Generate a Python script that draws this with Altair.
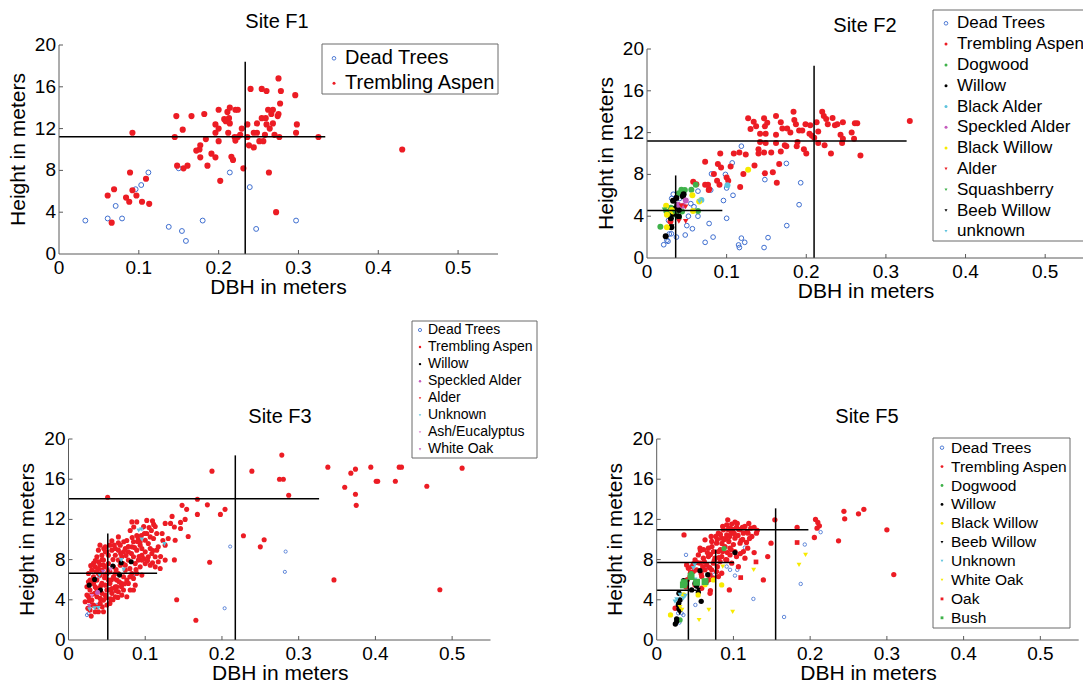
import altair as alt
import pandas as pd

OFF = 8
W, H = 1075, 672
FONT = "Liberation Sans"

RED = "#ec1c24"
BLUE = "#3f6fd0"
GREEN = "#3fb24a"
BLACK = "#000000"
CYAN = "#5ec3dd"
MAGENTA = "#c45bbd"
PINK = "#dd80cf"
YELLOW = "#f7ea00"
AXIS = "#5a5a5a"

X_TICKS = [0, 0.1, 0.2, 0.3, 0.4, 0.5]
X_TICK_LABELS = ["0", "0.1", "0.2", "0.3", "0.4", "0.5"]
Y_TICKS = [0, 4, 8, 12, 16, 20]

# ---------------- Site F1 ----------------
F1_DEAD = [(0.033, 3.2), (0.061, 3.4), (0.079, 3.4), (0.071, 4.6), (0.096, 6.2), (0.103, 6.6),
           (0.112, 7.8), (0.1375, 2.6), (0.154, 2.2), (0.159, 1.25), (0.150, 8.2), (0.180, 3.2),
           (0.214, 7.8), (0.239, 6.4), (0.247, 2.4), (0.297, 3.2)]
F1_ASPEN = [(0.061, 5.6), (0.069, 6.2), (0.066, 3.0), (0.089, 7.8), (0.092, 11.6), (0.084, 5.4),
            (0.088, 5.0), (0.092, 6.1), (0.097, 5.6), (0.104, 5.0), (0.109, 7.2), (0.113, 4.8),
            (0.147, 13.2), (0.145, 11.2), (0.148, 8.45), (0.155, 11.9), (0.156, 8.2), (0.161, 8.45),
            (0.166, 13.2), (0.182, 13.4), (0.177, 10.4), (0.176, 10.0), (0.172, 9.9), (0.177, 9.25),
            (0.184, 11.0), (0.186, 8.45), (0.191, 9.6), (0.196, 9.25), (0.196, 12.4), (0.196, 11.6),
            (0.200, 13.8), (0.200, 12.0), (0.200, 10.8), (0.202, 7.0), (0.207, 12.9), (0.209, 12.7),
            (0.211, 13.6), (0.212, 11.6), (0.213, 13.0), (0.214, 14.0), (0.214, 12.5), (0.216, 9.3),
            (0.218, 9.0), (0.221, 13.8), (0.224, 13.8), (0.220, 11.2), (0.221, 10.85), (0.224, 11.2),
            (0.227, 11.4), (0.229, 12.0), (0.231, 8.2), (0.236, 12.4), (0.236, 11.2), (0.238, 10.4),
            (0.244, 10.2), (0.244, 11.6), (0.240, 15.8), (0.248, 12.5), (0.248, 11.6), (0.251, 10.8),
            (0.254, 13.0), (0.254, 15.8), (0.256, 10.8), (0.258, 11.4), (0.259, 13.0), (0.260, 15.6),
            (0.260, 12.4), (0.263, 7.8), (0.262, 13.8), (0.264, 12.0), (0.266, 13.4), (0.268, 13.8),
            (0.268, 12.5), (0.270, 11.4), (0.272, 4.0), (0.275, 16.8), (0.274, 13.2), (0.275, 13.4),
            (0.277, 14.4), (0.278, 15.6), (0.276, 11.2), (0.296, 15.2), (0.297, 11.6), (0.298, 12.4),
            (0.325, 11.2), (0.430, 10.0)]
F1_CROSS = [(0.2333, 0, 0.2333, 18.4), (0, 11.23, 0.3336, 11.23)]

# ---------------- Site F2 ----------------
F2_DEAD = [(0.021, 1.27), (0.025, 1.7), (0.028, 2.3), (0.037, 2.0), (0.048, 2.2), (0.057, 2.8),
           (0.050, 3.1), (0.073, 1.5), (0.083, 2.0), (0.078, 3.3), (0.100, 3.8), (0.096, 5.5),
           (0.108, 6.0), (0.100, 6.7), (0.0985, 8.0), (0.081, 8.05), (0.080, 6.5), (0.107, 9.1),
           (0.1185, 10.7), (0.115, 1.25), (0.1185, 1.9), (0.1227, 1.5), (0.116, 1.0), (0.147, 1.0),
           (0.152, 1.95), (0.148, 7.5), (0.175, 9.05), (0.1755, 3.1), (0.191, 5.1), (0.193, 7.2),
           (0.064, 6.4), (0.059, 4.9), (0.031, 5.7), (0.033, 6.1), (0.027, 3.6), (0.041, 5.7),
           (0.052, 4.0), (0.064, 4.0), (0.0264, 1.6), (0.0306, 2.32), (0.045, 6.2), (0.055, 5.2)]
F2_ASPEN = [(0.127, 13.37), (0.134, 13.05), (0.137, 12.6), (0.130, 12.35), (0.147, 13.37), (0.151, 12.95),
            (0.148, 12.6), (0.142, 11.9), (0.149, 11.9), (0.162, 13.6), (0.168, 13.0), (0.170, 12.4),
            (0.176, 12.4), (0.180, 12.0), (0.162, 11.8), (0.184, 14.0), (0.185, 13.2), (0.187, 12.8),
            (0.191, 12.2), (0.195, 12.2), (0.199, 12.8), (0.205, 12.7), (0.204, 11.9), (0.207, 11.7),
            (0.213, 13.0), (0.215, 12.1), (0.220, 14.0), (0.222, 13.6), (0.225, 13.3), (0.227, 12.8),
            (0.233, 13.4), (0.236, 12.7), (0.239, 12.8), (0.246, 13.0), (0.243, 11.8), (0.246, 11.4),
            (0.245, 11.0), (0.257, 12.0), (0.260, 11.4), (0.261, 12.9), (0.264, 12.9), (0.268, 9.8),
            (0.330, 13.1), (0.142, 11.1), (0.149, 11.0), (0.162, 11.0), (0.173, 10.8), (0.175, 10.7),
            (0.189, 11.1), (0.188, 10.7), (0.197, 10.4), (0.200, 10.0), (0.210, 11.5), (0.215, 11.0),
            (0.223, 10.8), (0.231, 10.0), (0.140, 10.4), (0.140, 10.0), (0.147, 10.1), (0.156, 10.1),
            (0.168, 10.2), (0.092, 10.0), (0.109, 10.0), (0.116, 10.1), (0.124, 9.9), (0.073, 9.2),
            (0.089, 9.0), (0.093, 8.65), (0.105, 8.75), (0.121, 8.05), (0.135, 8.85), (0.148, 8.1),
            (0.158, 8.2), (0.166, 9.0), (0.163, 7.2), (0.073, 7.0), (0.084, 8.05), (0.088, 7.4),
            (0.091, 7.0), (0.100, 7.7), (0.102, 7.4), (0.117, 6.8), (0.078, 6.6), (0.058, 7.3),
            (0.0766, 7.0), (0.0775, 6.5), (0.0294, 3.5), (0.062, 7.05)]
F2_DOGWOOD = [(0.0612, 7.0), (0.0432, 6.52), (0.040, 6.2), (0.0557, 6.52), (0.0244, 4.45), (0.0264, 4.23),
              (0.0366, 4.14), (0.064, 4.5), (0.0168, 3.0), (0.044, 4.45), (0.040, 3.9), (0.030, 4.8),
              (0.0475, 6.5)]
F2_WILLOW = [(0.0327, 5.48), (0.0369, 5.73), (0.045, 5.9), (0.036, 4.77), (0.040, 4.6), (0.033, 4.23),
             (0.040, 3.97), (0.0235, 2.07), (0.0306, 2.95), (0.030, 3.8), (0.038, 5.1), (0.046, 6.1)]
F2_BLACK_ALDER = [(0.0683, 5.56), (0.101, 6.95)]
F2_SPECKLED = [(0.0487, 5.5), (0.039, 5.1), (0.0453, 5.0)]
F2_BLACK_WILLOW = [(0.025, 4.14), (0.033, 4.45), (0.057, 6.0), (0.0578, 4.5), (0.127, 8.44),
                   (0.025, 2.95), (0.031, 4.6), (0.0655, 5.4), (0.024, 5.0)]
F2_ALDER = [(0.040, 3.5), (0.0486, 3.5), (0.0485, 4.9), (0.043, 5.0)]
F2_SQUASH = [(0.022, 4.6), (0.034, 4.4)]
F2_BEEB = [(0.037, 4.0), (0.031, 3.0)]
F2_UNKNOWN = [(0.066, 5.4)]
F2_CROSS = [(0.2098, 0, 0.2098, 18.4), (0, 11.2, 0.326, 11.2), (0.036, 0, 0.036, 7.9), (0, 4.55, 0.0946, 4.55)]

# ---------------- Site F3 ----------------
F3_DEAD = [(0.2107, 9.3), (0.283, 8.8), (0.282, 6.78), (0.2035, 3.16), (0.0965, 11.1), (0.086, 6.56),
           (0.026, 2.65), (0.024, 2.48), (0.0348, 3.31), (0.0587, 4.97), (0.085, 6.48), (0.037, 3.5),
           (0.040, 6.3)]
F3_ASPEN = [(0.051, 14.2), (0.187, 16.8), (0.168, 14.0), (0.181, 13.45), (0.168, 12.5), (0.198, 12.5),
            (0.204, 13.0), (0.148, 13.4), (0.154, 13.0), (0.152, 12.0), (0.156, 10.3), (0.135, 12.3),
            (0.146, 11.7), (0.184, 7.74), (0.138, 7.97), (0.141, 4.0), (0.166, 1.96), (0.228, 10.37),
            (0.239, 16.8), (0.250, 9.27), (0.255, 9.97), (0.278, 18.4), (0.275, 16.0), (0.280, 16.0),
            (0.287, 14.4), (0.338, 17.2), (0.360, 15.2), (0.368, 16.6), (0.374, 17.0), (0.374, 14.5),
            (0.375, 13.4), (0.346, 5.98), (0.394, 17.2), (0.401, 15.8), (0.403, 15.8), (0.426, 15.8),
            (0.431, 17.2), (0.434, 17.2), (0.467, 15.3), (0.513, 17.1), (0.484, 5.0),
            (0.102, 11.9), (0.1095, 11.85), (0.113, 11.3), (0.108, 10.9), (0.115, 10.6), (0.099, 10.6),
            (0.0826, 11.75), (0.085, 11.25), (0.126, 11.6), (0.133, 11.6), (0.138, 11.25), (0.146, 11.1),
            (0.122, 10.6), (0.091, 10.1), (0.083, 10.2), (0.076, 9.9), (0.072, 9.77), (0.065, 9.67),
            (0.0565, 9.87), (0.0595, 9.44), (0.041, 9.44), (0.039, 8.94), (0.048, 9.27), (0.065, 8.94),
            (0.074, 9.1), (0.0826, 9.27), (0.089, 8.94), (0.100, 8.77), (0.1086, 8.6), (0.115, 8.94),
            (0.104, 9.6), (0.0934, 9.44), (0.1095, 7.68), (0.117, 7.78), (0.126, 7.95), (0.100, 7.6),
            (0.0934, 7.28), (0.087, 7.6), (0.080, 7.1), (0.0826, 6.62), (0.074, 6.95), (0.0717, 6.29),
            (0.0687, 5.63), (0.063, 5.96), (0.061, 5.3), (0.0565, 5.13), (0.050, 4.97), (0.052, 5.96),
            (0.065, 6.62), (0.0587, 7.28), (0.052, 7.6), (0.0456, 7.95), (0.039, 7.78), (0.0348, 7.28),
            (0.0304, 6.95), (0.026, 6.62), (0.0282, 5.96), (0.0326, 6.29), (0.037, 5.96), (0.039, 6.62),
            (0.0435, 6.95), (0.0478, 6.46), (0.0435, 5.63), (0.0348, 5.3), (0.028, 4.97), (0.026, 4.3),
            (0.0304, 3.97), (0.037, 4.3), (0.0435, 4.64), (0.0456, 3.97), (0.0478, 4.47), (0.0413, 3.64),
            (0.037, 3.31), (0.0326, 3.48), (0.028, 2.98), (0.0252, 3.15), (0.0296, 2.38), (0.0456, 2.81),
            (0.039, 2.81), (0.0643, 4.24), (0.0717, 4.97), (0.0847, 4.97), (0.078, 5.63), (0.061, 4.3),
            (0.054, 3.64), (0.0956, 7.95), (0.1065, 7.45), (0.1195, 7.12), (0.078, 7.95), (0.0695, 8.28),
            (0.061, 8.44), (0.052, 8.44), (0.0435, 8.44), (0.0565, 8.94), (0.065, 7.95), (0.048, 7.28),
            (0.054, 6.79), (0.0608, 6.62), (0.089, 11.75), (0.1065, 10.26), (0.1108, 10.1), (0.100, 9.93),
            (0.089, 10.4), (0.0804, 10.9), (0.078, 8.77), (0.0956, 8.44), (0.113, 8.28), (0.117, 9.27),
            (0.126, 9.44), (0.130, 10.1), (0.139, 9.93), (0.113, 7.28), (0.089, 6.62), (0.0956, 6.46),
            (0.076, 5.96), (0.024, 5.3), (0.024, 4.47), (0.034, 4.64), (0.039, 5.13), (0.048, 5.46),
            (0.054, 5.63), (0.0587, 6.29), (0.052, 6.95), (0.0456, 7.45), (0.039, 7.12), (0.0326, 7.62),
            (0.037, 8.28), (0.048, 8.77), (0.054, 9.44), (0.061, 9.1), (0.0674, 9.44), (0.0717, 8.77),
            (0.0674, 7.45), (0.074, 7.45), (0.0847, 6.13), (0.087, 5.46), (0.0804, 4.97), (0.0695, 4.47),
            (0.076, 4.3), (0.0847, 8.28), (0.091, 7.95), (0.104, 8.28), (0.0956, 9.1), (0.1065, 9.1),
            (0.102, 10.6), (0.0934, 9.77), (0.0847, 9.77), (0.065, 10.26), (0.050, 8.77), (0.0413, 6.46),
            (0.0326, 5.63), (0.0217, 3.81), (0.0348, 2.81), (0.0413, 4.14), (0.050, 3.48), (0.0565, 4.64),
            (0.063, 5.3), (0.065, 4.8), (0.030, 4.5), (0.033, 5.8), (0.036, 6.8), (0.041, 7.5),
            (0.044, 8.0), (0.047, 6.2), (0.050, 6.6), (0.053, 5.0), (0.056, 6.0), (0.058, 4.0),
            (0.062, 7.0), (0.066, 5.8), (0.068, 8.6), (0.071, 7.6), (0.075, 8.4), (0.078, 9.3),
            (0.082, 8.6), (0.086, 9.2), (0.090, 9.8), (0.095, 10.4), (0.098, 11.3), (0.105, 11.2),
            (0.111, 11.5), (0.058, 8.0), (0.046, 9.1), (0.042, 5.4), (0.031, 3.5), (0.027, 3.9),
            (0.044, 3.3), (0.049, 4.2), (0.055, 4.1), (0.062, 4.9), (0.069, 5.3), (0.073, 5.6),
            (0.080, 6.3), (0.088, 7.0), (0.092, 8.3), (0.098, 8.1), (0.103, 7.9), (0.110, 8.9),
            (0.120, 8.3), (0.123, 9.9), (0.035, 7.9), (0.029, 7.4), (0.026, 5.8)]
F3_WILLOW = [(0.034, 6.03), (0.027, 5.46), (0.0417, 4.97), (0.0578, 7.35), (0.0665, 6.46), (0.0687, 7.68),
             (0.0817, 7.78)]
F3_SPECKLED = [(0.0378, 4.74)]
F3_ALDER = [(0.060, 6.0), (0.035, 5.0)]
F3_UNKNOWN = [(0.0947, 11.0), (0.0956, 10.0), (0.125, 9.54), (0.0687, 7.95), (0.072, 7.0), (0.0404, 6.46),
              (0.0274, 3.05), (0.034, 3.15), (0.039, 3.18), (0.0915, 10.9)]
F3_ASH = [(0.055, 7.02), (0.0304, 4.37)]
F3_WHITE_OAK = [(0.027, 3.38), (0.045, 6.8)]
F3_CROSS = [(0.2174, 0, 0.2174, 18.37), (0, 14.05, 0.3266, 14.05), (0.0512, 0, 0.0512, 10.6), (0, 6.63, 0.1155, 6.63)]

# ---------------- Site F5 ----------------
F5_DEAD = [(0.0382, 8.47), (0.0956, 6.98), (0.102, 6.41), (0.105, 6.98), (0.126, 4.09), (0.166, 2.29),
           (0.1877, 5.58), (0.193, 9.5), (0.2137, 10.73), (0.0912, 7.31), (0.0665, 7.31), (0.0504, 3.49),
           (0.0326, 2.66), (0.0295, 1.73), (0.0348, 2.49), (0.028, 2.66), (0.115, 9.2), (0.060, 7.0),
           (0.075, 6.5)]
F5_ASPEN = [(0.154, 11.96), (0.183, 11.2), (0.2055, 10.2), (0.207, 12.0), (0.210, 11.7), (0.212, 11.36),
            (0.209, 11.13), (0.237, 9.87), (0.244, 12.8), (0.245, 12.06), (0.263, 12.56), (0.270, 13.0),
            (0.300, 10.96), (0.309, 6.51), (0.149, 9.63), (0.1447, 8.3), (0.139, 5.98), (0.127, 8.7),
            (0.130, 10.63), (0.1226, 11.13), (0.119, 10.63), (0.0356, 10.46), (0.0947, 4.98), (0.070, 4.92),
            (0.063, 9.97), (0.0565, 9.14), (0.0804, 10.63), (0.0869, 10.96), (0.0913, 11.46), (0.0978, 11.53),
            (0.0956, 11.13), (0.104, 11.2), (0.1117, 11.2), (0.124, 10.3), (0.1186, 9.14), (0.113, 8.8),
            (0.1086, 9.63), (0.102, 10.13), (0.0978, 10.63), (0.0913, 10.47), (0.0847, 10.13), (0.078, 9.63),
            (0.0717, 9.8), (0.0674, 9.14), (0.0739, 8.8), (0.0804, 8.8), (0.089, 9.3), (0.0956, 9.14),
            (0.102, 8.8), (0.0956, 8.47), (0.0847, 8.3), (0.076, 8.14), (0.0674, 8.3), (0.0608, 8.14),
            (0.0543, 8.47), (0.050, 7.97), (0.0565, 7.64), (0.0652, 7.47), (0.0739, 7.64), (0.0826, 7.8),
            (0.0913, 7.97), (0.0978, 7.64), (0.0456, 7.3), (0.0413, 7.14), (0.039, 7.47), (0.063, 6.98),
            (0.0717, 6.98), (0.078, 6.81), (0.0847, 6.64), (0.0804, 6.31), (0.074, 6.15), (0.0695, 6.48),
            (0.115, 8.14), (0.1065, 7.3), (0.0695, 4.65), (0.0587, 5.15), (0.050, 5.48), (0.024, 3.16),
            (0.0926, 11.96), (0.102, 11.73), (0.115, 11.3), (0.1086, 10.96), (0.113, 10.63), (0.0435, 6.31),
            (0.0478, 6.81), (0.052, 6.98), (0.0587, 6.31), (0.0652, 5.81), (0.088, 10.0), (0.094, 9.8),
            (0.100, 9.5), (0.106, 10.4), (0.083, 9.0), (0.077, 10.3), (0.070, 8.5), (0.092, 8.7),
            (0.099, 11.0), (0.086, 11.3), (0.110, 9.9), (0.118, 10.8), (0.062, 7.8), (0.105, 11.6),
            (0.096, 10.9), (0.072, 9.3), (0.079, 10.0), (0.085, 9.6), (0.090, 10.1), (0.095, 10.3),
            (0.101, 10.6), (0.107, 11.0), (0.112, 10.0), (0.097, 9.0), (0.090, 8.0), (0.086, 8.8),
            (0.081, 8.2), (0.075, 7.9), (0.069, 7.2), (0.066, 8.7), (0.060, 7.3), (0.057, 8.9),
            (0.053, 7.7), (0.048, 7.6), (0.044, 6.7), (0.040, 6.0), (0.038, 5.3), (0.058, 6.6),
            (0.068, 6.0), (0.079, 7.3), (0.104, 8.3), (0.109, 8.6), (0.117, 9.7), (0.121, 10.1),
            (0.093, 11.0), (0.083, 10.5), (0.120, 11.6), (0.127, 11.2), (0.131, 10.9), (0.071, 10.3),
            (0.061, 9.0)]
F5_DOGWOOD = [(0.0878, 9.1), (0.0304, 2.0), (0.045, 6.6)]
F5_WILLOW = [(0.102, 8.7), (0.0565, 6.9), (0.0665, 6.5), (0.0543, 4.75), (0.058, 3.85), (0.026, 2.09),
             (0.0243, 1.59), (0.0287, 3.65), (0.029, 4.65), (0.050, 5.65), (0.052, 5.38), (0.0456, 4.98),
             (0.0304, 3.99), (0.0282, 3.49), (0.029, 3.09), (0.026, 1.83), (0.035, 5.9)]
F5_BLACK_WILLOW = [(0.018, 2.49), (0.0847, 5.48), (0.0738, 5.98), (0.054, 4.48), (0.063, 5.5), (0.035, 4.5)]
F5_BEEB = [(0.026, 1.99), (0.0543, 4.98), (0.030, 2.7)]
F5_UNKNOWN = [(0.0304, 4.48), (0.0239, 3.82), (0.0348, 4.15), (0.0478, 7.14), (0.026, 4.05), (0.0374, 4.39),
              (0.0495, 7.47), (0.050, 6.0)]
F5_WHITE_OAK = [(0.194, 8.47), (0.1855, 7.47), (0.1264, 6.98), (0.086, 7.31), (0.099, 2.79), (0.0552, 1.99),
                (0.068, 2.99), (0.0304, 3.26), (0.033, 3.0)]
F5_OAK = [(0.183, 9.7), (0.1294, 7.77), (0.1095, 6.21)]
F5_BUSH = [(0.0348, 5.48), (0.052, 5.75), (0.063, 5.81), (0.0448, 6.31), (0.036, 5.71)]
F5_CROSS = [(0.155, 0, 0.155, 13.1), (0, 10.96, 0.1977, 10.96), (0.0769, 0, 0.0769, 9.0),
            (0, 7.72, 0.1008, 7.72), (0.0413, 0, 0.0413, 6.0), (0, 4.95, 0.052, 4.95)]


def panel_layers(P):
    x0 = P["x0"] - OFF
    y0 = P["y0"] - OFF
    xs = alt.Scale(domain=[0, 0.55], range=[x0, x0 + P["xpx"]], nice=False, zero=False)
    ys = alt.Scale(domain=[0, 20], range=[y0, y0 - P["ypx"]], nice=False, zero=False)
    rows = []
    for name, pts, col, shp, filled, size in P["series"]:
        for d, h in pts:
            rows.append({"sp": name, "dbh": d, "h": h, "col": col, "shp": shp,
                         "fl": 1 if filled else 0, "sz": size})
    df = pd.DataFrame(rows)
    enc = dict(x=alt.X("dbh:Q", scale=xs, axis=None), y=alt.Y("h:Q", scale=ys, axis=None),
               color=alt.Color("col:N", scale=None), shape=alt.Shape("shp:N", scale=None),
               size=alt.Size("sz:Q", scale=None))
    L = []
    L.append(alt.Chart(df[df.fl == 0]).mark_point(filled=False, strokeWidth=P["ow"], opacity=1).encode(**enc))
    L.append(alt.Chart(df[df.fl == 1]).mark_point(filled=True, opacity=1).encode(**enc))
    cr = pd.DataFrame(P["cross"], columns=["xa", "ya", "xb", "yb"])
    L.append(alt.Chart(cr).mark_rule(color="black", strokeWidth=1.5).encode(
        x=alt.X("xa:Q", scale=xs, axis=None), x2="xb:Q",
        y=alt.Y("ya:Q", scale=ys, axis=None), y2="yb:Q"))
    ax = pd.DataFrame({"xa": [0, 0], "ya": [0, 0], "xb": [0.55, 0], "yb": [0, 20]})
    L.append(alt.Chart(ax).mark_rule(color=AXIS, strokeWidth=1).encode(
        x=alt.X("xa:Q", scale=xs, axis=None), x2="xb:Q",
        y=alt.Y("ya:Q", scale=ys, axis=None), y2="yb:Q"))
    xt = pd.DataFrame({"v": X_TICKS[1:]})
    L.append(alt.Chart(xt).mark_rule(color=AXIS, strokeWidth=1).encode(
        x=alt.X("v:Q", scale=xs, axis=None), y=alt.value(y0), y2=alt.value(y0 - 4)))
    yt = pd.DataFrame({"v": Y_TICKS[1:]})
    L.append(alt.Chart(yt).mark_rule(color=AXIS, strokeWidth=1).encode(
        y=alt.Y("v:Q", scale=ys, axis=None), x=alt.value(x0), x2=alt.value(x0 + 4)))
    xl = pd.DataFrame({"v": X_TICKS, "t": X_TICK_LABELS})
    L.append(alt.Chart(xl).mark_text(font=FONT, fontSize=P["tfs"], align="center", baseline="middle",
                                     color="black").encode(
        x=alt.X("v:Q", scale=xs, axis=None), y=alt.value(y0 + 14), text="t:N"))
    yl = pd.DataFrame({"v": Y_TICKS, "t": [str(v) for v in Y_TICKS]})
    L.append(alt.Chart(yl).mark_text(font=FONT, fontSize=P["tfs"], align="right", baseline="middle",
                                     color="black").encode(
        y=alt.Y("v:Q", scale=ys, axis=None), x=alt.value(x0 - 3), text="t:N"))
    one = pd.DataFrame({"k": [0]})
    L.append(alt.Chart(one).mark_text(font=FONT, fontSize=20, align="center", baseline="middle",
                                      color="black", text=P["title"]).encode(
        x=alt.value(P["title_xy"][0] - OFF), y=alt.value(P["title_xy"][1] - OFF)))
    L.append(alt.Chart(one).mark_text(font=FONT, fontSize=21, align="center", baseline="middle",
                                      color="black", text="DBH in meters").encode(
        x=alt.value(x0 + P["xpx"] * 0.5 / 0.55 * 0.5 + 20), y=alt.value(y0 + 34)))
    L.append(alt.Chart(one).mark_text(font=FONT, fontSize=21, align="center", baseline="middle",
                                      color="black", angle=270, text="Height in meters").encode(
        x=alt.value(x0 - 40.5), y=alt.value(y0 - P["ypx"] / 2)))
    return L


def legend_layers(G):
    l, t, r, b = [v - OFF for v in G["box"]]
    n = len(G["entries"])
    yfirst = G["first"] - OFF
    ys = alt.Scale(domain=[0, n - 1], range=[yfirst, yfirst + G["step"] * (n - 1)], nice=False, zero=False)
    df = pd.DataFrame([{"label": e[0], "col": e[1], "shp": e[2], "fl": 1 if e[3] else 0, "row": i}
                       for i, e in enumerate(G["entries"])])
    L = []
    L.append(alt.Chart(pd.DataFrame({"k": [0]})).mark_rect(fill="white", stroke="#6a6a6a",
                                                           strokeWidth=1).encode(
        x=alt.value(l), x2=alt.value(r), y=alt.value(t), y2=alt.value(b)))
    enc = dict(x=alt.value(G["sym_x"] - OFF), y=alt.Y("row:Q", scale=ys, axis=None),
               color=alt.Color("col:N", scale=None), shape=alt.Shape("shp:N", scale=None))
    L.append(alt.Chart(df[df.fl == 0]).mark_point(filled=False, size=G["ssz"] + 4, strokeWidth=0.9,
                                                  opacity=1).encode(**enc))
    L.append(alt.Chart(df[df.fl == 1]).mark_point(filled=True, size=G["ssz"], opacity=1).encode(**enc))
    L.append(alt.Chart(df).mark_text(font=FONT, fontSize=G["fs"], align="left", baseline="middle",
                                     color="black").encode(
        x=alt.value(G["text_x"] - OFF), y=alt.Y("row:Q", scale=ys, axis=None), text="label:N"))
    return L


P1 = dict(x0=59, y0=254, xpx=439, ypx=209, ow=1.0, tfs=19, title="Site F1", title_xy=(277, 22),
          cross=F1_CROSS,
          series=[("Dead Trees", F1_DEAD, BLUE, "circle", False, 24),
                  ("Trembling Aspen", F1_ASPEN, RED, "circle", True, 38)])
P2 = dict(x0=647, y0=258, xpx=438, ypx=209, ow=1.0, tfs=19, title="Site F2", title_xy=(865, 26),
          cross=F2_CROSS,
          series=[("Dead Trees", F2_DEAD, BLUE, "circle", False, 22),
                  ("Trembling Aspen", F2_ASPEN, RED, "circle", True, 36),
                  ("Dogwood", F2_DOGWOOD, GREEN, "circle", True, 36),
                  ("Willow", F2_WILLOW, BLACK, "circle", True, 36),
                  ("Black Alder", F2_BLACK_ALDER, CYAN, "circle", True, 36),
                  ("Speckled Alder", F2_SPECKLED, MAGENTA, "circle", True, 36),
                  ("Black Willow", F2_BLACK_WILLOW, YELLOW, "circle", True, 36),
                  ("Alder", F2_ALDER, RED, "triangle-down", True, 30),
                  ("Squashberry", F2_SQUASH, GREEN, "triangle-down", True, 30),
                  ("Beeb Willow", F2_BEEB, BLACK, "triangle-down", True, 30),
                  ("unknown", F2_UNKNOWN, CYAN, "triangle-down", True, 30)])
P3 = dict(x0=68.5, y0=640, xpx=422, ypx=201, ow=0.8, tfs=19, title="Site F3", title_xy=(280, 417),
          cross=F3_CROSS,
          series=[("Dead Trees", F3_DEAD, BLUE, "circle", False, 10),
                  ("Trembling Aspen", F3_ASPEN, RED, "circle", True, 26),
                  ("Willow", F3_WILLOW, BLACK, "circle", True, 26),
                  ("Speckled Alder", F3_SPECKLED, MAGENTA, "circle", True, 26),
                  ("Alder", F3_ALDER, RED, "triangle-down", True, 22),
                  ("Unknown", F3_UNKNOWN, CYAN, "triangle-down", True, 22),
                  ("Ash/Eucalyptus", F3_ASH, PINK, "triangle-down", True, 22),
                  ("White Oak", F3_WHITE_OAK, MAGENTA, "triangle-down", True, 22)])
P5 = dict(x0=656.7, y0=640, xpx=422, ypx=201, ow=0.8, tfs=19, title="Site F5", title_xy=(867, 417),
          cross=F5_CROSS,
          series=[("Dead Trees", F5_DEAD, BLUE, "circle", False, 12),
                  ("Trembling Aspen", F5_ASPEN, RED, "circle", True, 28),
                  ("Dogwood", F5_DOGWOOD, GREEN, "circle", True, 28),
                  ("Willow", F5_WILLOW, BLACK, "circle", True, 28),
                  ("Black Willow", F5_BLACK_WILLOW, YELLOW, "circle", True, 28),
                  ("Beeb Willow", F5_BEEB, BLACK, "triangle-down", True, 24),
                  ("Unknown", F5_UNKNOWN, CYAN, "triangle-down", True, 24),
                  ("White Oak", F5_WHITE_OAK, YELLOW, "triangle-down", True, 24),
                  ("Oak", F5_OAK, RED, "square", True, 22),
                  ("Bush", F5_BUSH, GREEN, "square", True, 48)])


def legend_entries(P):
    return [(name, col, shp, filled) for name, _, col, shp, filled, _ in P["series"]]


G1 = dict(box=(322, 44, 498, 94), first=58.3, step=25, sym_x=334, text_x=345, fs=20, ssz=9,
          entries=legend_entries(P1))
G2 = dict(box=(933, 10, 1087, 241), first=23.3, step=20.8, sym_x=946, text_x=957, fs=17, ssz=9,
          entries=legend_entries(P2))
G3 = dict(box=(412, 321, 537, 458), first=330, step=17.05, sym_x=420, text_x=428, fs=14, ssz=6,
          entries=legend_entries(P3))
G5 = dict(box=(933, 438, 1070, 628), first=447.7, step=18.9, sym_x=942, text_x=951, fs=15.5, ssz=8,
          entries=legend_entries(P5))

layers = []
for P, G in [(P1, G1), (P2, G2), (P3, G3), (P5, G5)]:
    layers += panel_layers(P)
    layers += legend_layers(G)

chart = (alt.layer(*layers)
         .resolve_scale(x="independent", y="independent")
         .properties(width=W, height=H, padding=0, autosize=alt.AutoSizeParams(type="none"))
         .configure_view(stroke=None))

chart.save("out.html", embed_options={"renderer": "svg", "actions": False})
